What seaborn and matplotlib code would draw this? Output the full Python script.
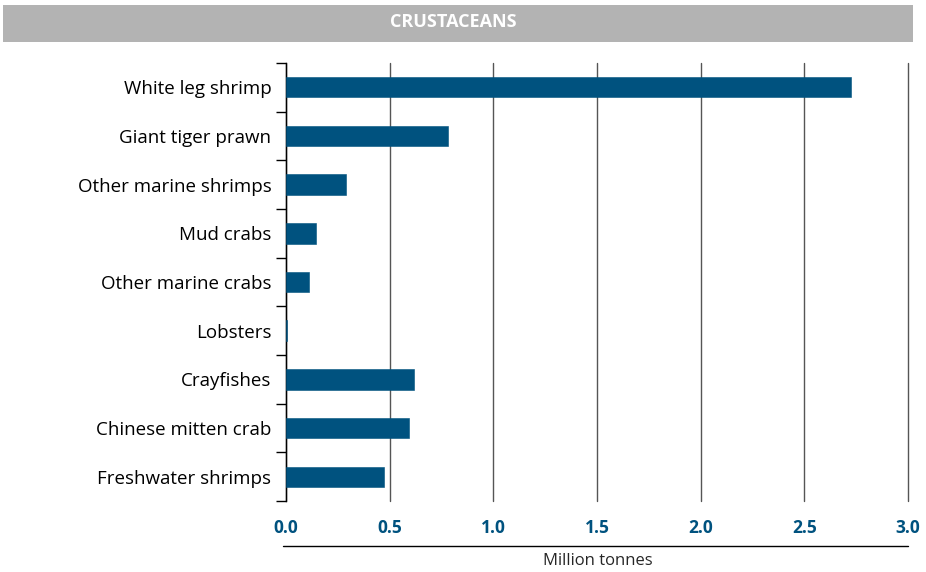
import pandas as pd
import matplotlib.pyplot as plt
import seaborn as sns
from matplotlib.lines import Line2D
from matplotlib.patches import Rectangle

species = ["White leg shrimp", "Giant tiger prawn", "Other marine shrimps", "Mud crabs",
           "Other marine crabs", "Lobsters", "Crayfishes", "Chinese mitten crab",
           "Freshwater shrimps"]
production = [2.725, 0.78, 0.287, 0.143, 0.112, 0.004, 0.617, 0.595, 0.473]
ticks = [0.0, 0.5, 1.0, 1.5, 2.0, 2.5, 3.0]

df = pd.DataFrame({"species": species, "production": production})

sns.set_style("white")
plt.rcParams["font.family"] = ["Open Sans", "DejaVu Sans"]

fig = plt.figure(figsize=(9.26, 5.72), dpi=100)
ax = fig.add_axes([0.3089, 0.124, 0.6717, 0.766])

sns.barplot(data=df, x="production", y="species", orient="h", color="#00527f",
            saturation=1, width=0.42, edgecolor="#00527f", linewidth=0.4, ax=ax, zorder=3)

ax.set_xlim(0, 3.0)
ax.set_ylim(len(species) - 0.5, -0.5)
ax.set_xticks(ticks)
ax.set_xticklabels([f"{t:.1f}" for t in ticks], fontsize=12.5, fontweight="bold", color="#00527f")
ax.tick_params(axis="x", length=0, pad=13)
ax.grid(axis="x", color="#555555", linewidth=1, zorder=0)
for gl in ax.get_xgridlines():
    gl.set_clip_on(False)
ax.grid(axis="y", visible=False)

# category labels, with small ticks between the categories
ax.tick_params(axis="y", which="major", left=False, length=0, pad=10.5, labelsize=13.5, labelcolor="black")
ax.set_yticks([i - 0.5 for i in range(len(species) + 1)], minor=True)
ax.tick_params(axis="y", which="minor", left=True, length=7, width=1, color="black", direction="out")

for s in ["top", "right", "bottom"]:
    ax.spines[s].set_visible(False)
ax.spines["left"].set_color("black")
ax.spines["left"].set_linewidth(1)
ax.set_xlabel("")
ax.set_ylabel("")

# header band
fig.add_artist(Rectangle((3 / 926, 1 - 42 / 572), 910 / 926, 37 / 572,
                         transform=fig.transFigure, facecolor="#b3b3b3", edgecolor="none"))
fig.text(453 / 926, 1 - 22 / 572, "CRUSTACEANS", ha="center", va="center",
         color="white", fontsize=13, fontweight="bold")

# axis title with rule
fig.add_artist(Line2D([283 / 926, 908 / 926], [1 - 546 / 572, 1 - 546 / 572],
                      transform=fig.transFigure, color="black", linewidth=1))
fig.text(598 / 926, 1 - 561 / 572, "Million tonnes", ha="center", va="center", fontsize=12)

fig.savefig("out.png", dpi=100)
